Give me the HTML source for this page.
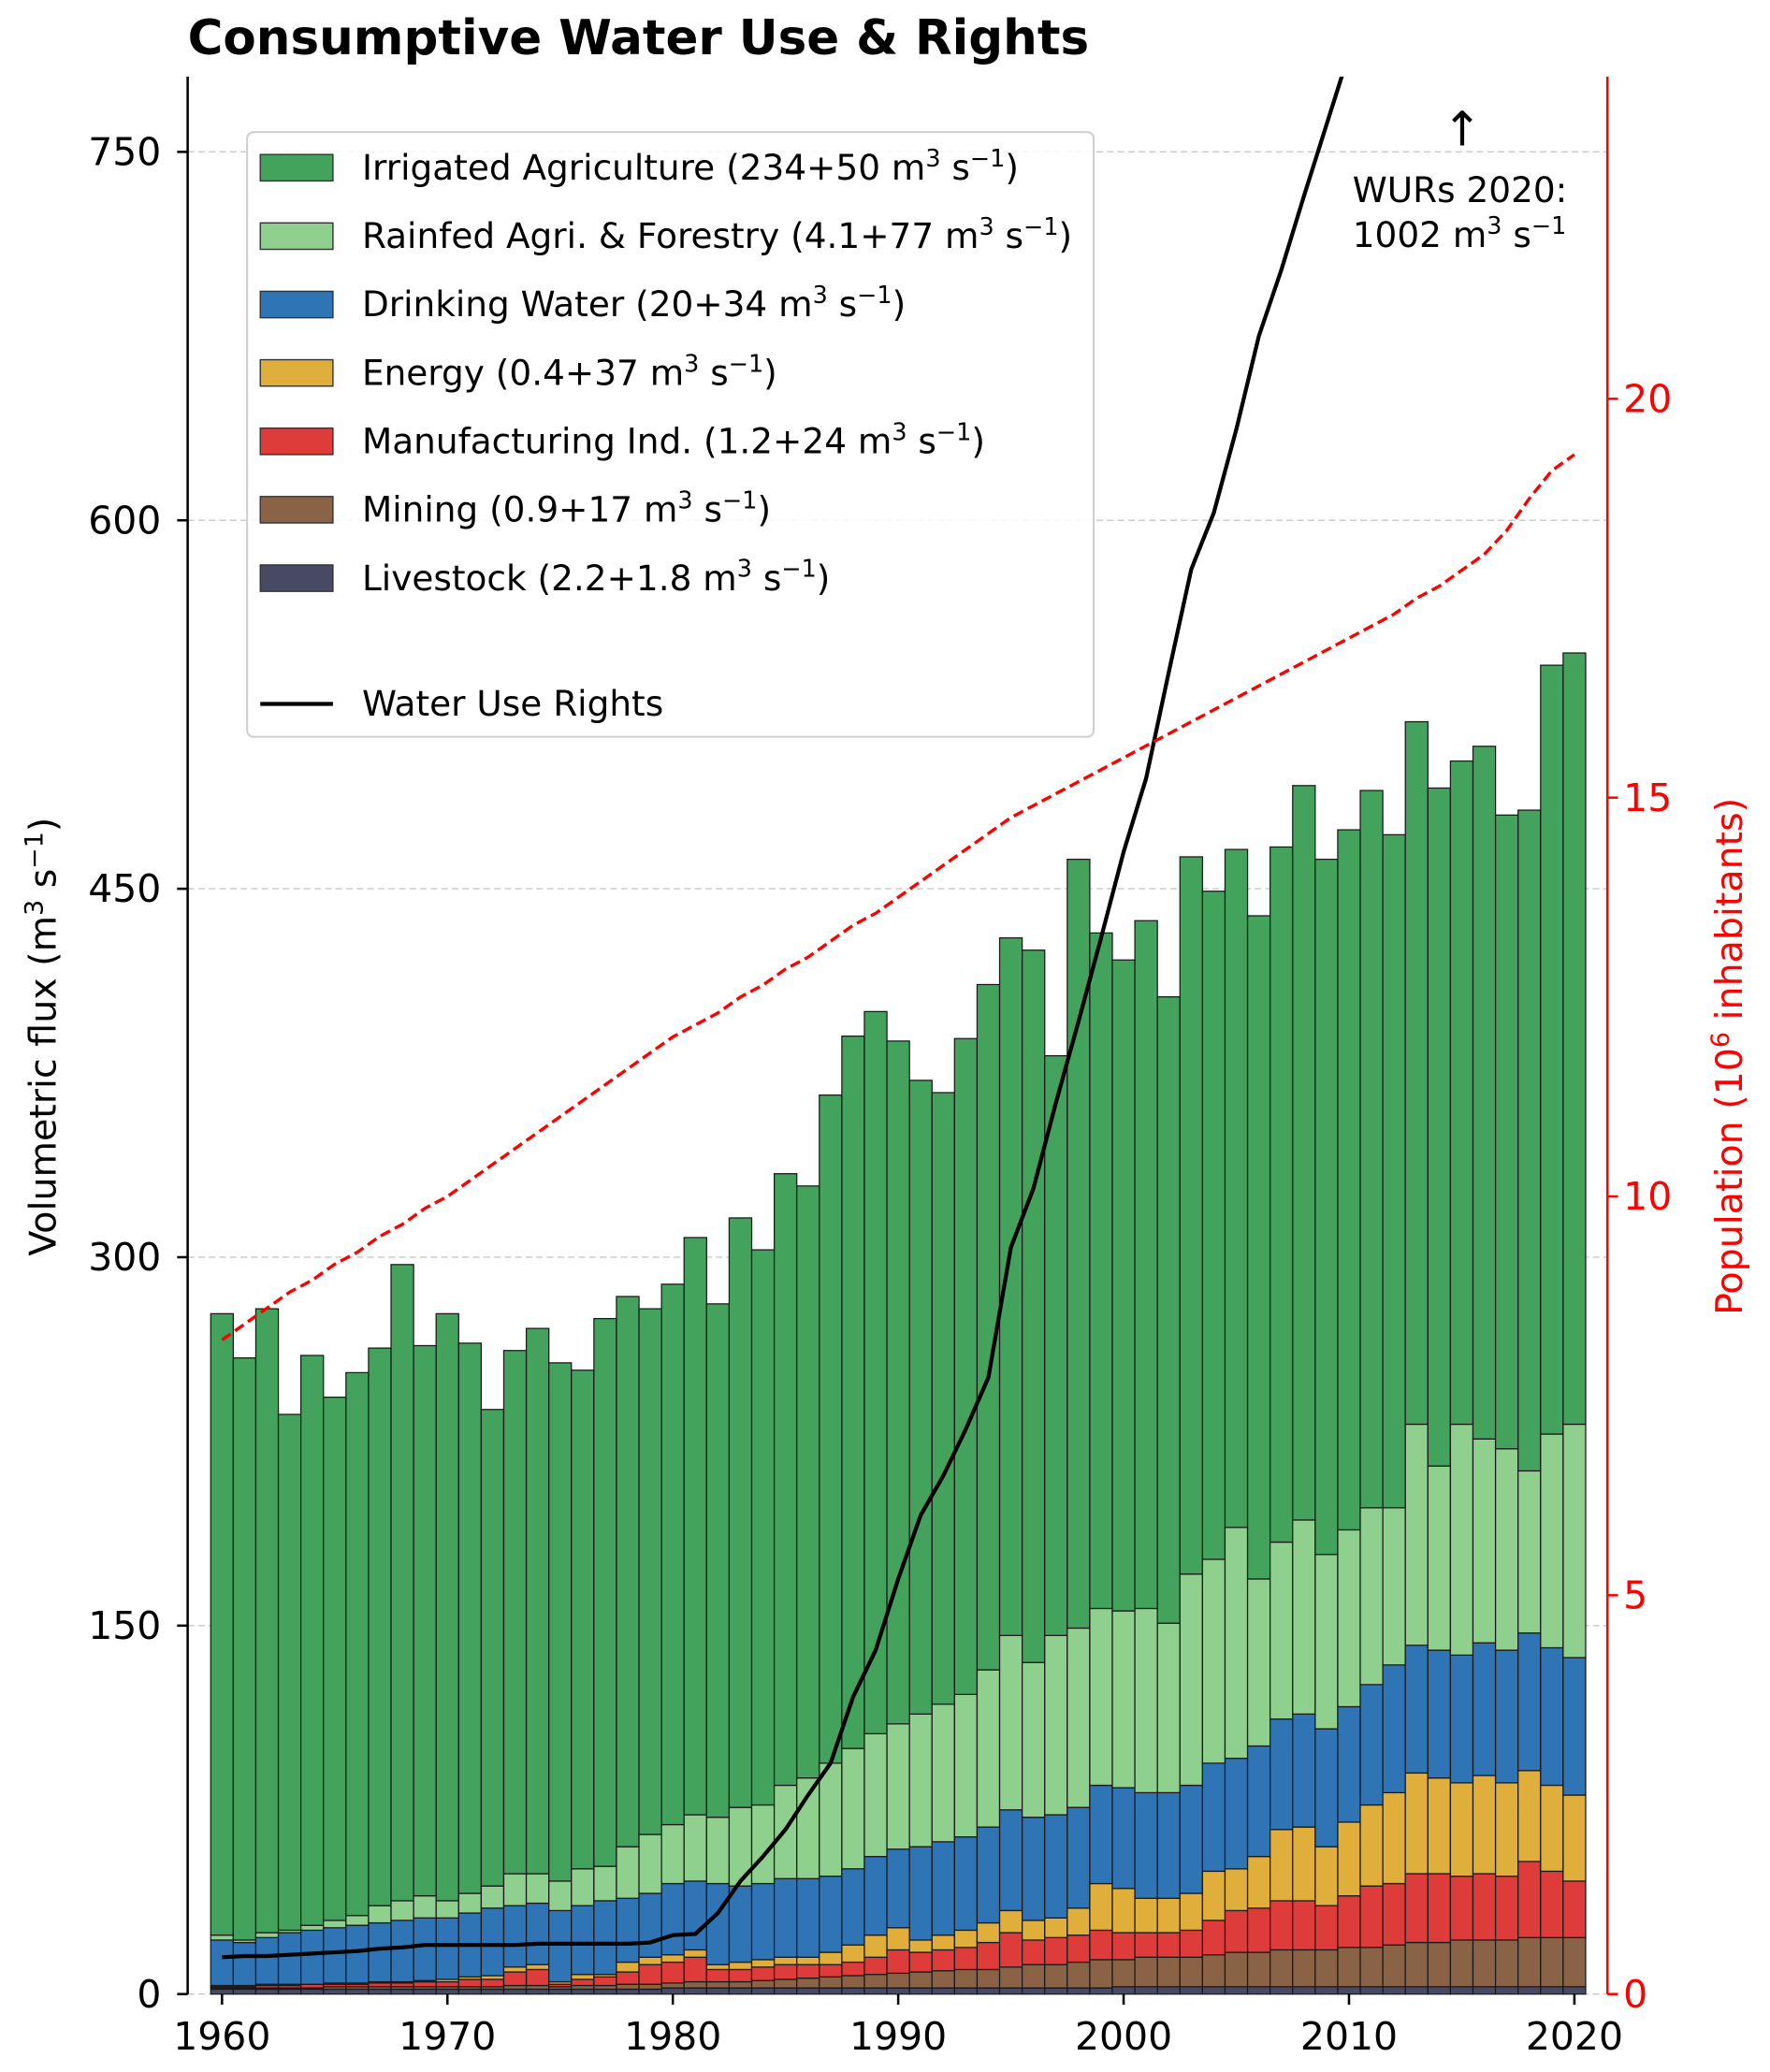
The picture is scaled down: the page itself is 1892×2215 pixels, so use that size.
<!DOCTYPE html>
<html><head><meta charset="utf-8"><style>
html,body{margin:0;padding:0;background:#fff}
svg{display:block;font-family:"DejaVu Sans","Liberation Sans",sans-serif}
</style></head><body>
<svg id="chart" width="1892" height="2215" viewBox="0 0 1340 1569" xmlns="http://www.w3.org/2000/svg">
<text x="142" y="41" font-size="36.5" font-weight="bold">Consumptive Water Use &amp; Rights</text>
<g id="grid"></g><g id="bars"></g><g id="lines"></g><g id="axes"></g><g id="legend"></g>
</svg>
<script>
const years=[];for(let y=1960;y<=2020;y++)years.push(y);
const livestock=[2,2,2,2,2,2,2,2,2,2,2,2,2,2,2,2,2,2,2,2,2.5,2.5,2.5,2.5,2.5,2.5,2.5,2.5,2.5,2.5,2.5,2.5,2.5,2.5,2.5,2.5,2.5,2.5,2.5,2.5,3,3,3,3,3,3,3,3,3,3,3,3,3,3,3,3,3,3,3,3,3];
const mining=[0.5,0.5,0.5,0.5,0.5,1,1,1,1,1,1,1,1,1.5,1.5,1,1.5,1.5,2,2,2,2.5,2.5,2.5,3,3.5,4,4.5,5,5.5,6,6.5,7,7.5,7.5,8.5,9.5,9.5,10.5,11.5,11,12,12,12,13,14,14,15,15,15,16,16,17,18,18,19,19,19,20,20,20];
const manufacturing=[0.5,0.5,1,1,1.5,1,1,1.5,1.5,2,2,3,3,5.5,6.5,1,2.5,3.5,5,8,8.5,10,5,5,5.5,6,5.5,5,5.5,7,9.5,8,8.5,9,11,14,10,11,11,12,11,10,10,11,14,17,18,20,20,18,21,25,25,28,28,26,27,26,31,27,23];
const energy=[0.5,0.5,0.5,0.5,0,0.5,0.5,0.5,0.5,0.5,1,1,1.5,2,2,1,2,1,4,3,3,3,2,3,3,3,3,5,7,9,9,5,6,7,8,9,8,8,11,19,18,14,14,15,20,17,21,29,30,24,30,33,37,41,39,38,40,38,37,35,35];
const drinking=[18.5,17.5,19,21,22,22.5,23.5,24,25,25.5,25,26,27.5,25,25,29,28,30,26,26,29,28,33,31,31,32,32,31,31,32,32,38,38,38,39,41,42,42,41,40,41,43,43,44,44,45,45,45,46,48,47,49,52,52,52,52,54,54,56,56,56];
const rainfed=[2,1,2,1,2,3,4,7,8,9,7,8,9,13,12,12,15,14,21,24,24,27,27,32,32,38,41,46,49,50,51,54,56,58,64,71,63,73,73,72,72,75,69,86,83,94,68,72,79,71,72,72,64,90,75,94,83,82,66,87,95];
const irrigated=[253,237,254,210,232,213,221,227,259,224,239,224,194,213,222,211,203,223,224,214,220,235,209,240,226,249,241,272,290,294,278,258,249,267,279,284,290,236,313,275,265,280,255,292,272,276,270,283,299,283,285,292,274,286,276,270,282,258,269,313,314];
const wur=[15,15.5,15.5,16,16.5,17,17.5,18.5,19,20,20,20,20,20,20.5,20.5,20.5,20.5,20.5,21,24,24.5,33,46,56,67,81,94,121,140,169,195,211,230,251,304,328,363,396,430,465,495,538,580,603,637,675,702,732,761,790,820,850,880,905,930,950,970,985,995,1002];
const population=[8.2,8.4,8.6,8.8,8.95,9.15,9.3,9.5,9.65,9.85,10.0,10.2,10.4,10.6,10.8,11.0,11.2,11.4,11.6,11.8,12.0,12.15,12.3,12.5,12.65,12.85,13.0,13.2,13.4,13.55,13.75,13.95,14.15,14.35,14.55,14.75,14.9,15.05,15.2,15.35,15.5,15.65,15.8,15.95,16.1,16.25,16.4,16.55,16.7,16.85,17.0,17.15,17.3,17.5,17.65,17.85,18.05,18.35,18.75,19.1,19.3];
const yTicks=[0,150,300,450,600,750];
const y2Ticks=[0,5,10,15,20];
const xTicks=[1960,1970,1980,1990,2000,2010,2020];

const NS="http://www.w3.org/2000/svg";
const L=142,R=1217,T=58,B=1510;
const x=v=>168+(v-1960)*(1192-168)/60;
const y=v=>B-v*(B-115)/750;
const y2=v=>B-v*(B-302)/20;
const bw=(1192-168)/60;
function mk(tag,attrs,parent){const e=document.createElementNS(NS,tag);for(const k in attrs)e.setAttribute(k,attrs[k]);parent.appendChild(e);return e;}
const grid=document.getElementById('grid'),bars=document.getElementById('bars'),lines=document.getElementById('lines'),axes=document.getElementById('axes'),legend=document.getElementById('legend');

yTicks.forEach(t=>{const g=mk('line',{x1:L,x2:R,y1:y(t),y2:y(t),stroke:'#c8c8c8','stroke-width':1,'stroke-dasharray':'5,3'},grid);

});

const series=[
 {name:'livestock',vals:livestock,color:'#474a62'},
 {name:'mining',vals:mining,color:'#8a6246'},
 {name:'manufacturing',vals:manufacturing,color:'#de3b3b'},
 {name:'energy',vals:energy,color:'#dfae3b'},
 {name:'drinking-water',vals:drinking,color:'#2f74b5'},
 {name:'rainfed',vals:rainfed,color:'#90d08f'},
 {name:'irrigated',vals:irrigated,color:'#43a35c'}];
years.forEach((yr,i)=>{let base=0;series.forEach(s=>{const v=s.vals[i];
 const r=mk('rect',{x:x(yr)-bw/2,y:y(base+v),width:bw,height:Math.max(0,y(base)-y(base+v)),fill:s.color,stroke:'#1a1a1a','stroke-width':0.9},bars);
 
 
 base+=v;});});

const defs=mk('defs',{},document.getElementById('chart'));
const cp=mk('clipPath',{id:'plotclip'},defs);mk('rect',{x:L,y:T,width:R-L,height:B-T},cp);
const wl=mk('polyline',{points:years.map((yr,i)=>x(yr)+','+y(wur[i])).join(' '),fill:'none',stroke:'#000','stroke-width':3,'clip-path':'url(#plotclip)'},lines);


const pl=mk('polyline',{points:years.map((yr,i)=>x(yr)+','+y2(population[i])).join(' '),fill:'none',stroke:'#ff0000','stroke-width':2.4,'stroke-dasharray':'8,4'},lines);



const la=mk('line',{x1:L,x2:L,y1:T,y2:B,stroke:'#000','stroke-width':1.8},axes);


const ra=mk('line',{x1:R,x2:R,y1:T,y2:B,stroke:'#ff0000','stroke-width':1.8},axes);


yTicks.forEach(t=>{mk('line',{x1:L-8,x2:L,y1:y(t),y2:y(t),stroke:'#000','stroke-width':1.8},axes);
 const tx=mk('text',{x:L-20,y:y(t)+10,'font-size':29,'text-anchor':'end'},axes);tx.textContent=t;
 
 });
y2Ticks.forEach(t=>{mk('line',{x1:R,x2:R+8,y1:y2(t),y2:y2(t),stroke:'#ff0000','stroke-width':1.8},axes);
 const tx=mk('text',{x:R+12,y:y2(t)+10,'font-size':29,fill:'#ff0000'},axes);tx.textContent=t;
 
 });
xTicks.forEach(t=>{mk('line',{x1:x(t),x2:x(t),y1:B,y2:B+8,stroke:'#000','stroke-width':1.8},axes);
 const tx=mk('text',{x:x(t),y:B+42,'font-size':29,'text-anchor':'middle'},axes);tx.textContent=t;
 
 });
</script>
<script>
(function(){
const NS="http://www.w3.org/2000/svg";const svg=document.getElementById('chart');
function mk(tag,attrs,parent){const e=document.createElementNS(NS,tag);for(const k in attrs)e.setAttribute(k,attrs[k]);parent.appendChild(e);return e;}
const yl=document.createElementNS(NS,'text');


yl.setAttribute('transform','translate(42,785) rotate(-90)');yl.setAttribute('text-anchor','middle');yl.setAttribute('font-size','28');
yl.innerHTML='Volumetric flux (m<tspan dy="-10" font-size="19">3</tspan><tspan dy="10"> s</tspan><tspan dy="-10" font-size="19">−1</tspan><tspan dy="10">)</tspan>';
svg.appendChild(yl);
const y2l=document.createElementNS(NS,'text');


y2l.setAttribute('transform','translate(1319,800) rotate(-90)');y2l.setAttribute('text-anchor','middle');y2l.setAttribute('font-size','28');y2l.setAttribute('fill','#ff0000');
y2l.innerHTML='Population (10<tspan dy="-10" font-size="19">6</tspan><tspan dy="10"> inhabitants)</tspan>';
svg.appendChild(y2l);
const lg=document.getElementById('legend');
const box=mk('rect',{x:187,y:100,width:641,height:458,rx:5,fill:'#fff','fill-opacity':0.85,stroke:'#d0d0d0','stroke-width':1.5},lg);


const items=[['Irrigated Agriculture (234+50 m','#43a35c'],['Rainfed Agri. &amp; Forestry (4.1+77 m','#90d08f'],['Drinking Water (20+34 m','#2f74b5'],['Energy (0.4+37 m','#dfae3b'],['Manufacturing Ind. (1.2+24 m','#de3b3b'],['Mining (0.9+17 m','#8a6246'],['Livestock (2.2+1.8 m','#474a62']];
items.forEach((it,i)=>{const cy=127+i*51.8;
 const p=mk('rect',{x:197,y:cy-10,width:55,height:20,fill:it[1],stroke:'#333','stroke-width':1},lg);
 
 
 const t=mk('text',{x:274,y:cy+9,'font-size':26.5},lg);
 
 
 t.innerHTML=it[0]+'<tspan dy="-10" font-size="18">3</tspan><tspan dy="10"> s</tspan><tspan dy="-10" font-size="18">−1</tspan><tspan dy="10">)</tspan>';});
mk('line',{x1:197,x2:252,y1:533,y2:533,stroke:'#000','stroke-width':3},lg);
const wt=mk('text',{x:274,y:542,'font-size':26.5},lg);wt.textContent='Water Use Rights';


const ar=mk('text',{x:1107,y:110,'font-size':36,'text-anchor':'middle'},svg);ar.textContent='↑';


const a1=mk('text',{x:1024,y:153,'font-size':26.5},svg);a1.textContent='WURs 2020:';


const a2=document.createElementNS(NS,'text');a2.setAttribute('x','1024');a2.setAttribute('y','187');a2.setAttribute('font-size','26.5');


a2.innerHTML='1002 m<tspan dy="-10" font-size="18">3</tspan><tspan dy="10"> s</tspan><tspan dy="-10" font-size="18">−1</tspan>';
svg.appendChild(a2);
})();
</script>
</body></html>
